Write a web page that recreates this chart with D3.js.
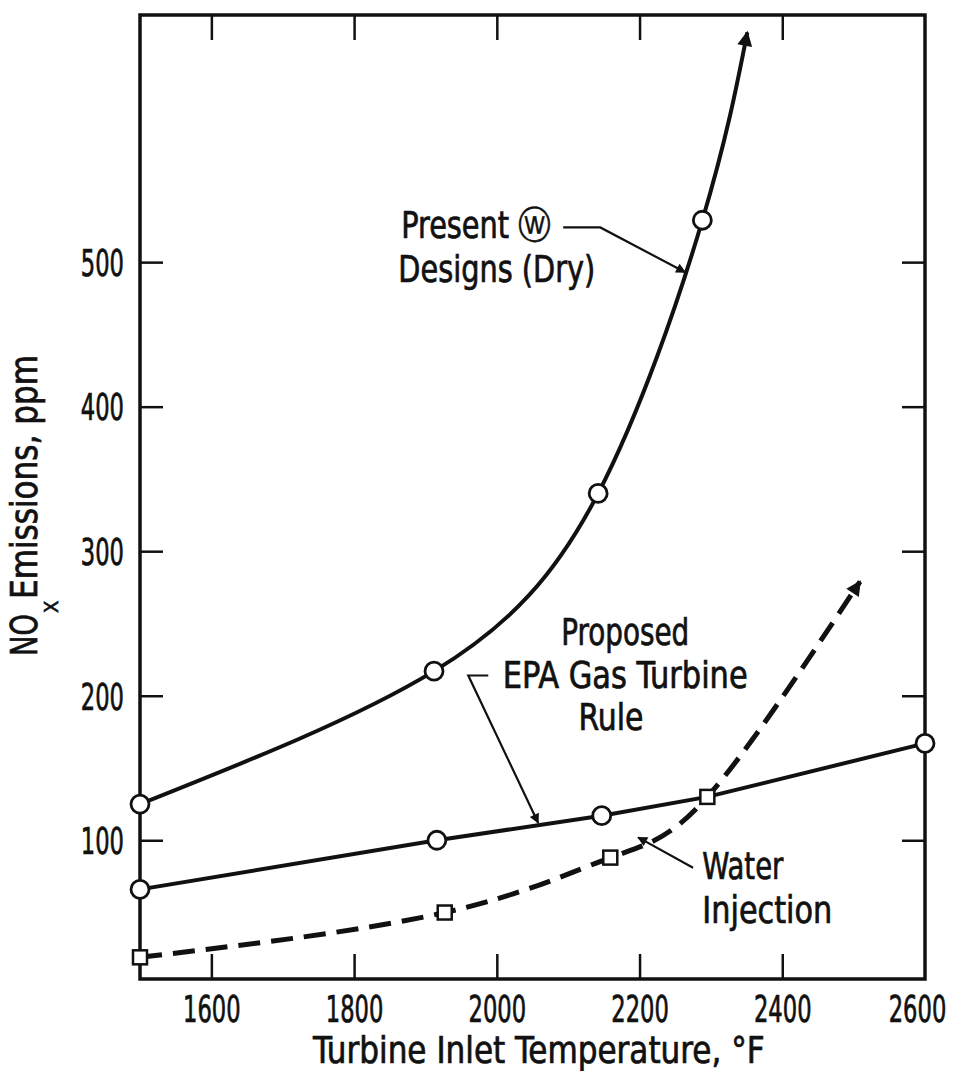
<!DOCTYPE html>
<html>
<head>
<meta charset="utf-8">
<script src="https://cdn.jsdelivr.net/npm/d3@7"></script>
<style>
    body { margin: 0; background: #fff; }
    svg text {
        font-family: "Liberation Sans Narrow", "DejaVu Sans Condensed", "DejaVu Sans", sans-serif;
        fill: #111;
        stroke: #111;
        stroke-width: 0.7px;
    }
</style>
</head>
<body>
<script>
// values (temperature in F, NOx in ppm)
let presentTemp = [1500, 1912, 2142, 2288];
let presentNox = [125, 217, 340, 529];
let presentEnd = [2351, 659];

let epaTemp = [1500, 1916, 2147, 2295, 2600];
let epaNox = [66, 100, 117, 130, 167];
let epaCircle = [true, true, true, false, true];

let waterTemp = [1500, 1927, 2159, 2295];
let waterNox = [19, 50, 88, 130];
let waterEnd = [2509, 279];

let xTicks = [1600, 1800, 2000, 2200, 2400, 2600];
let yTicks = [100, 200, 300, 400, 500];

let width = 958,
    height = 1071,
    plotLeft = 140,
    plotRight = 925,
    plotTop = 15,
    plotBottom = 979,
    fontSize = 37,
    squeeze = 0.68; // digits in the original are very narrow

let svg = d3.select("body").append("svg")
    .attr("width", width)
    .attr("height", height);

let x = d3.scaleLinear().domain([1500, 2600]).range([plotLeft, plotRight]);
let y = d3.scaleLinear().domain([4, 671]).range([plotBottom, plotTop]);

// arrow heads
let defs = svg.append("defs");
function arrowMarker(id, w, h) {
    defs.append("marker")
        .attr("id", id)
        .attr("viewBox", "0 0 10 10")
        .attr("refX", 9)
        .attr("refY", 5)
        .attr("markerUnits", "userSpaceOnUse")
        .attr("markerWidth", w)
        .attr("markerHeight", h)
        .attr("orient", "auto")
        .append("path")
        .attr("d", "M0,0 L10,5 L0,10 Z")
        .attr("fill", "#111");
}
arrowMarker("headBig", 28, 15);
arrowMarker("headSmall", 18, 10);

// axes with inward ticks
function styleAxis(g) {
    g.select(".domain").remove();
    g.attr("font-family", null).attr("font-size", null);
    g.selectAll(".tick line").attr("stroke", "#111").attr("stroke-width", 2.5);
}

let xAxis = svg.append("g")
    .attr("transform", `translate(0,${plotBottom})`)
    .call(d3.axisBottom(x).tickValues(xTicks).tickSize(-25).tickFormat(d3.format("d")))
    .call(styleAxis);
xAxis.selectAll(".tick line").filter(d => d == 2600).remove();
xAxis.selectAll(".tick text")
    .attr("x", d => (d == 2600 ? -8 : 0) / squeeze)
    .attr("y", 43)
    .attr("dy", 0)
    .attr("font-size", fontSize)
    .attr("transform", `scale(${squeeze},1)`);

svg.append("g")
    .attr("transform", `translate(0,${plotTop})`)
    .call(d3.axisTop(x).tickValues(xTicks.slice(0, 5)).tickSize(-25).tickFormat(""))
    .call(styleAxis);

let yAxis = svg.append("g")
    .attr("transform", `translate(${plotLeft},0)`)
    .call(d3.axisLeft(y).tickValues(yTicks).tickSize(-23))
    .call(styleAxis);
yAxis.selectAll(".tick text")
    .attr("x", -16 / squeeze)
    .attr("dy", "0.36em")
    .attr("font-size", fontSize)
    .attr("transform", `scale(${squeeze},1)`);

svg.append("g")
    .attr("transform", `translate(${plotRight},0)`)
    .call(d3.axisRight(y).tickValues(yTicks).tickSize(-23).tickFormat(""))
    .call(styleAxis);

// frame
svg.append("rect")
    .attr("x", plotLeft)
    .attr("y", plotTop)
    .attr("width", plotRight - plotLeft)
    .attr("height", plotBottom - plotTop)
    .attr("fill", "none")
    .attr("stroke", "#111")
    .attr("stroke-width", 3.5);

// squeeze a text horizontally so it spans len pixels
function fitText(parent, txt, px, py, len, anchor, size) {
    let g = parent.append("g");
    let t = g.append("text")
        .attr("font-size", size || fontSize)
        .text(txt);
    let w = t.node().getComputedTextLength();
    let sx = len / w;
    let shift = anchor == "middle" ? -len / 2 : 0;
    g.attr("transform", `translate(${px + shift},${py}) scale(${sx},1)`);
    return t;
}

// axis titles
fitText(svg, "Turbine Inlet Temperature, \u00b0F", 313, 1063, 452);

let yTitle = svg.append("g").attr("transform", "translate(37,656) rotate(-90)");
fitText(yTitle, "NO", 0, 0, 42);
yTitle.append("text").attr("x", 43).attr("y", 21)
    .attr("font-size", 20)
    .text("X");
fitText(yTitle, "Emissions, ppm", 57, 0, 244);

// curves
let line = d3.line()
    .x(d => x(d[0]))
    .y(d => y(d[1]));

let presentPts = presentTemp.map((t, i) => [t, presentNox[i]]);
let epaPts = epaTemp.map((t, i) => [t, epaNox[i]]);
let waterPts = waterTemp.map((t, i) => [t, waterNox[i]]);

svg.append("path")
    .datum(presentPts.concat([presentEnd]))
    .attr("d", line.curve(d3.curveNatural))
    .attr("fill", "none")
    .attr("stroke", "#111")
    .attr("stroke-width", 4)
    .attr("marker-end", "url(#headBig)");

svg.append("path")
    .datum(epaPts)
    .attr("d", line.curve(d3.curveLinear))
    .attr("fill", "none")
    .attr("stroke", "#111")
    .attr("stroke-width", 4);

svg.append("path")
    .datum(waterPts.concat([waterEnd]))
    .attr("d", line.curve(d3.curveNatural))
    .attr("fill", "none")
    .attr("stroke", "#111")
    .attr("stroke-width", 5)
    .attr("stroke-dasharray", "22,11")
    .attr("marker-end", "url(#headBig)");

// markers
svg.append("g").selectAll("circle")
    .data(presentPts.concat(epaPts.filter((d, i) => epaCircle[i])))
    .enter()
    .append("circle")
    .attr("cx", d => x(d[0]))
    .attr("cy", d => y(d[1]))
    .attr("r", 9)
    .attr("fill", "#fff")
    .attr("stroke", "#111")
    .attr("stroke-width", 2.8);

let sq = 14;
svg.append("g").selectAll("rect")
    .data(waterPts)
    .enter()
    .append("rect")
    .attr("x", d => x(d[0]) - sq / 2)
    .attr("y", d => y(d[1]) - sq / 2)
    .attr("width", sq)
    .attr("height", sq)
    .attr("fill", "#fff")
    .attr("stroke", "#111")
    .attr("stroke-width", 2.5);

// annotations (placed in data units)
function leader(pts) {
    svg.append("path")
        .datum(pts)
        .attr("d", line.curve(d3.curveLinear))
        .attr("fill", "none")
        .attr("stroke", "#111")
        .attr("stroke-width", 2.2)
        .attr("marker-end", "url(#headSmall)");
}
leader([[2093, 524], [2145, 524], [2264, 493]]);
leader([[1988, 214], [1960, 214], [2058, 112]]);
leader([[2275, 81], [2198, 102]]);

function label(txt, t, v, len, anchor) {
    return fitText(svg, txt, x(t), y(v), len, anchor);
}
let present = label("Present ", 1866, 517, 150);
present.append("tspan")
    .attr("font-family", "DejaVu Sans")
    .attr("font-size", 38)
    .style("stroke-width", "0.4px")
    .text("\u24e6");
// re-fit now that the logo is part of the line
let pw = present.node().getComputedTextLength();
d3.select(present.node().parentNode)
    .attr("transform", `translate(${x(1866)},${y(517)}) scale(${150 / pw},1)`);

label("Designs (Dry)", 1862, 486, 197);
label("Proposed", 2180, 235, 128, "middle");
label("EPA Gas Turbine", 2180, 205, 245, "middle");
label("Rule", 2160, 176, 65, "middle");
label("Water", 2288, 73, 81);
label("Injection", 2288, 43, 130);
</script>
</body>
</html>
